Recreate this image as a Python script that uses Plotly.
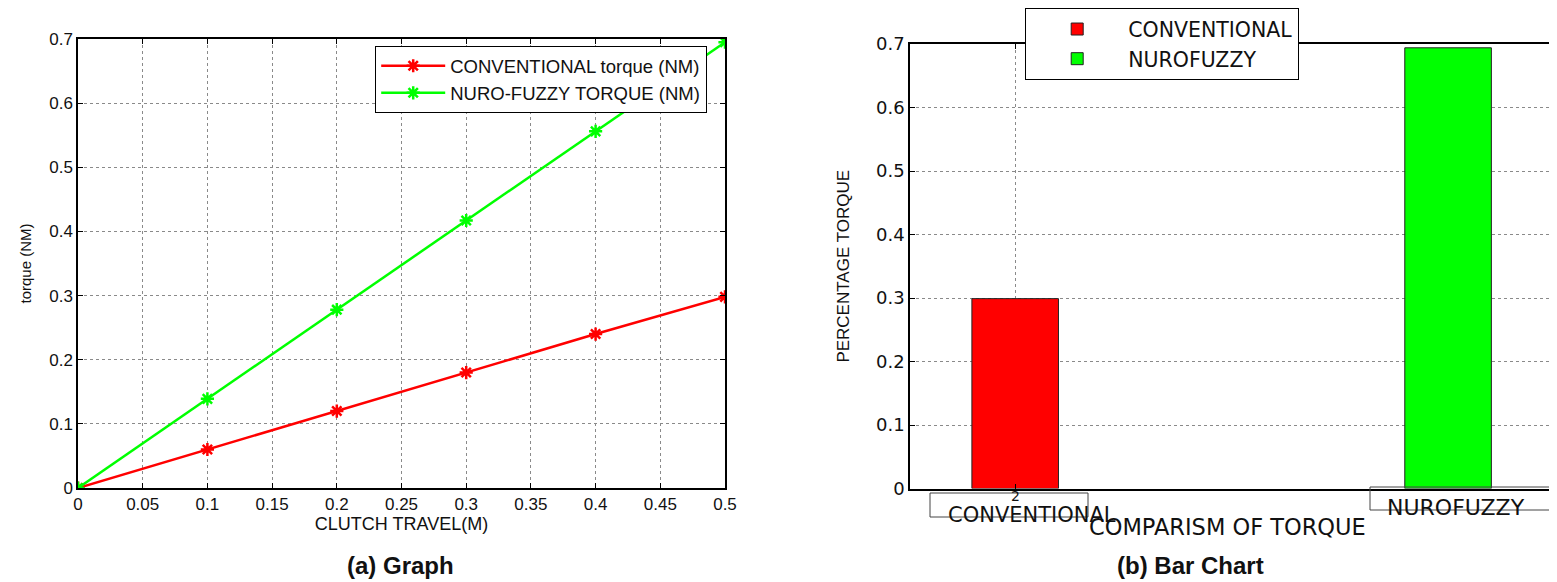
import plotly.graph_objects as go

# ---- data ----
clutch_travel = [0, 0.1, 0.2, 0.3, 0.4, 0.5]
conv_torque = [0, 0.06, 0.12, 0.18, 0.24, 0.298]
nf_torque = [0, 0.139, 0.278, 0.417, 0.556, 0.695]

bar_pos = [1, 2]
bar_names = ["CONVENTIONAL", "NUROFUZZY"]
bar_values = [0.299, 0.694]

x_ticks = [0, 0.05, 0.1, 0.15, 0.2, 0.25, 0.3, 0.35, 0.4, 0.45, 0.5]
x_ticklabels = ["0", "0.05", "0.1", "0.15", "0.2", "0.25", "0.3", "0.35", "0.4", "0.45", "0.5"]
y_ticks = [0, 0.1, 0.2, 0.3, 0.4, 0.5, 0.6, 0.7]
y_ticklabels = ["0", "0.1", "0.2", "0.3", "0.4", "0.5", "0.6", "0.7"]

RED = "#ff0000"
GREEN = "#00ff00"
SANS = "Liberation Sans, Arial, sans-serif"
WIDE = "DejaVu Sans, Liberation Sans, sans-serif"
INK = "#111"

W, H = 1557, 582
OFF = 8  # page body margin
def px(x):
    return (x - OFF) / W
def py(y):
    return 1 - (y - OFF) / H

fig = go.Figure()

fig.add_trace(go.Scatter(
    x=clutch_travel, y=conv_torque, name="CONVENTIONAL torque (NM)",
    mode="lines+markers", line=dict(color=RED, width=2.5),
    marker=dict(symbol="asterisk-open", size=11, line=dict(color=RED, width=2.5)),
    xaxis="x", yaxis="y", legend="legend"))
fig.add_trace(go.Scatter(
    x=clutch_travel, y=nf_torque, name="NURO-FUZZY TORQUE (NM)",
    mode="lines+markers", line=dict(color=GREEN, width=2.5),
    marker=dict(symbol="asterisk-open", size=11, line=dict(color=GREEN, width=2.5)),
    xaxis="x", yaxis="y", legend="legend"))

for pos, name, val, col in zip(bar_pos, bar_names, bar_values, [RED, GREEN]):
    fig.add_trace(go.Bar(
        x=[pos], y=[val], name=name, width=0.2,
        marker=dict(color=col, line=dict(color="#222", width=1)),
        xaxis="x2", yaxis="y2", legend="legend2"))

grid = dict(showgrid=True, gridcolor="#8a8a8a", griddash="dot", gridwidth=1)
axis_common = dict(showline=True, linecolor="black", linewidth=1.5, mirror="ticks",
                   ticks="inside", ticklen=5, tickcolor="black", zeroline=False,
                   automargin=False)

fig.update_layout(
    width=W, height=H, margin=dict(l=0, r=0, t=0, b=0, autoexpand=False),
    plot_bgcolor="white", paper_bgcolor="white",
    barmode="overlay",
    xaxis=dict(domain=[px(78), px(725)], range=[0, 0.5], anchor="y",
               tickvals=x_ticks, ticktext=x_ticklabels,
               tickfont=dict(family=SANS, size=17, color=INK),
               title=dict(text="CLUTCH TRAVEL(M)", font=dict(family=SANS, size=18, color=INK), standoff=4),
               **grid, **axis_common),
    yaxis=dict(domain=[py(488), py(39)], range=[0, 0.7], anchor="x",
               tickvals=y_ticks, ticktext=y_ticklabels,
               tickfont=dict(family=SANS, size=17, color=INK),
               title=dict(text="torque (NM)", font=dict(family=SANS, size=15, color=INK), standoff=14),
               **grid, **axis_common),
    xaxis2=dict(domain=[px(910), px(1555)], range=[0.757, 2.247], anchor="y2",
                tickvals=[1], ticktext=[""],
                **grid, **axis_common),
    yaxis2=dict(domain=[py(488.5), py(44)], range=[0, 0.7], anchor="x2",
                tickvals=y_ticks, ticktext=y_ticklabels,
                tickfont=dict(family=WIDE, size=18, color=INK),
                title=dict(text="PERCENTAGE TORQUE", font=dict(family=SANS, size=17, color=INK), standoff=22),
                **grid, **axis_common),
    legend=dict(x=px(375), y=py(46), xanchor="left", yanchor="top",
                bgcolor="white", bordercolor="black", borderwidth=1.2,
                font=dict(family=SANS, size=18.5, color=INK),
                itemwidth=64, tracegroupgap=0),
    legend2=dict(x=px(1025), y=py(8), xanchor="left", yanchor="top",
                 bgcolor="white", bordercolor="black", borderwidth=1.2,
                 font=dict(family=WIDE, size=20.5, color=INK),
                 itemwidth=92, tracegroupgap=0),
)

# Boxes around bar tick labels (MATLAB text objects)
fig.add_shape(type="rect", xref="paper", yref="paper",
              x0=px(930), x1=px(1088), y0=py(517), y1=py(493),
              line=dict(color="#444", width=1), fillcolor="rgba(0,0,0,0)")
fig.add_shape(type="rect", xref="paper", yref="paper",
              x0=px(1370), x1=px(1575), y0=py(510), y1=py(487),
              line=dict(color="#444", width=1), fillcolor="rgba(0,0,0,0)")

annos = [
    dict(text="2", x=bar_pos[0], xref="x2", y=py(496), yref="paper", font=dict(family=WIDE, size=14)),
    dict(text=bar_names[0], x=px(1032), xref="paper", y=py(515), yref="paper", font=dict(family=WIDE, size=21)),
    dict(text=bar_names[1], x=px(1456), xref="paper", y=py(508), yref="paper", font=dict(family=WIDE, size=22)),
    dict(text="COMPARISM OF TORQUE", x=px(1227), xref="paper", y=py(527), yref="paper", font=dict(family=WIDE, size=22.5)),
    dict(text="<b>(a) Graph</b>", x=px(400), xref="paper", y=py(565), yref="paper", font=dict(family=SANS, size=24)),
    dict(text="<b>(b) Bar Chart</b>", x=px(1190), xref="paper", y=py(565), yref="paper", font=dict(family=SANS, size=24)),
]
for a in annos:
    a["font"]["color"] = INK
    fig.add_annotation(showarrow=False, xanchor="center", yanchor="middle", **a)

fig.write_html("out.html")
